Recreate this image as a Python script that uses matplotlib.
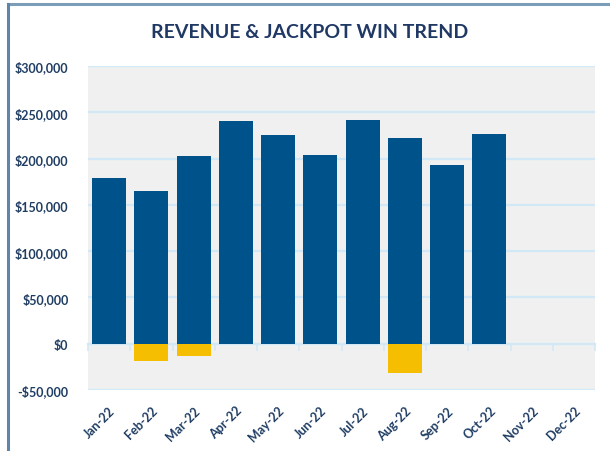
import matplotlib
matplotlib.use("Agg")
import matplotlib.pyplot as plt
from matplotlib.ticker import FuncFormatter, MultipleLocator

months = ["Jan-22", "Feb-22", "Mar-22", "Apr-22", "May-22", "Jun-22",
          "Jul-22", "Aug-22", "Sep-22", "Oct-22", "Nov-22", "Dec-22"]
revenue = [179500, 165000, 202500, 241000, 225500, 203500,
           241500, 222500, 193000, 227000, 0, 0]
jackpot = [0, -18700, -13300, 0, 0, 0, 0, -32000, 0, 0, 0, 0]

NAVY = "#00528A"
GOLD = "#F5BE00"
TEXT = "#1F3D63"
GRID = "#D3E8F7"
BG = "#F0F0F0"

plt.rcParams['font.family'] = ['Lato', 'DejaVu Sans']

fig = plt.figure(figsize=(6.10, 4.52), dpi=100)
ax = fig.add_axes([88/610, 1-391/452, (595-88)/610, (391-67)/452])
ax.set_facecolor(BG)

x = list(range(len(months)))
ax.bar(x, revenue, width=0.8, color=NAVY, linewidth=0, zorder=3)
ax.bar(x, jackpot, width=0.8, color=GOLD, linewidth=0, zorder=3)

ax.set_xlim(-0.5, len(months) - 0.5)
ax.set_ylim(-50000, 300000)
ax.yaxis.set_major_locator(MultipleLocator(50000))
ax.yaxis.set_major_formatter(FuncFormatter(
    lambda v, p: ("-$" if v < 0 else "$") + f"{abs(int(round(v))):,}"))
ax.grid(axis='y', color=GRID, linewidth=1.6, zorder=0)
ax.grid(axis='x', visible=False)
ax.set_axisbelow(True)

for s in ax.spines.values():
    s.set_visible(False)

ax.set_xticks(x)
ax.set_xticklabels(months, rotation=45, ha='right', va='top',
                   rotation_mode='anchor', fontsize=9, fontweight='bold', color=TEXT)
ax.tick_params(axis='x', length=0, pad=10)
ax.tick_params(axis='y', length=0, pad=14, labelsize=9, labelcolor=TEXT)
for lab in ax.get_yticklabels():
    lab.set_fontweight('bold')

# zero axis line with category boundary ticks
zero_frac = (0 - (-50000)) / (300000 - (-50000))
sec = ax.secondary_xaxis(zero_frac)
sec.set_xticks([i - 0.5 for i in range(len(months) + 1)])
sec.set_xticklabels([])
sec.tick_params(axis='x', direction='out', length=5, width=1.2, color=GRID)
sec.spines['bottom'].set_color(GRID)
sec.spines['bottom'].set_linewidth(1.6)
for k in ['top', 'left', 'right']:
    sec.spines[k].set_visible(False)

fig.text(310/610, 1-32/452, "REVENUE & JACKPOT WIN TREND", ha='center', va='center',
         fontsize=14, fontweight='bold', color="#1F3864")

# outer chart border (top and left edges visible)
fig.add_artist(plt.Line2D([8/610, 1], [1-5/452, 1-5/452], transform=fig.transFigure,
                          color="#7C9DB8", linewidth=2.2))
fig.add_artist(plt.Line2D([8/610, 8/610], [0, 1-5/452], transform=fig.transFigure,
                          color="#5E86A8", linewidth=2.2))

fig.savefig("out.png", dpi=100)
